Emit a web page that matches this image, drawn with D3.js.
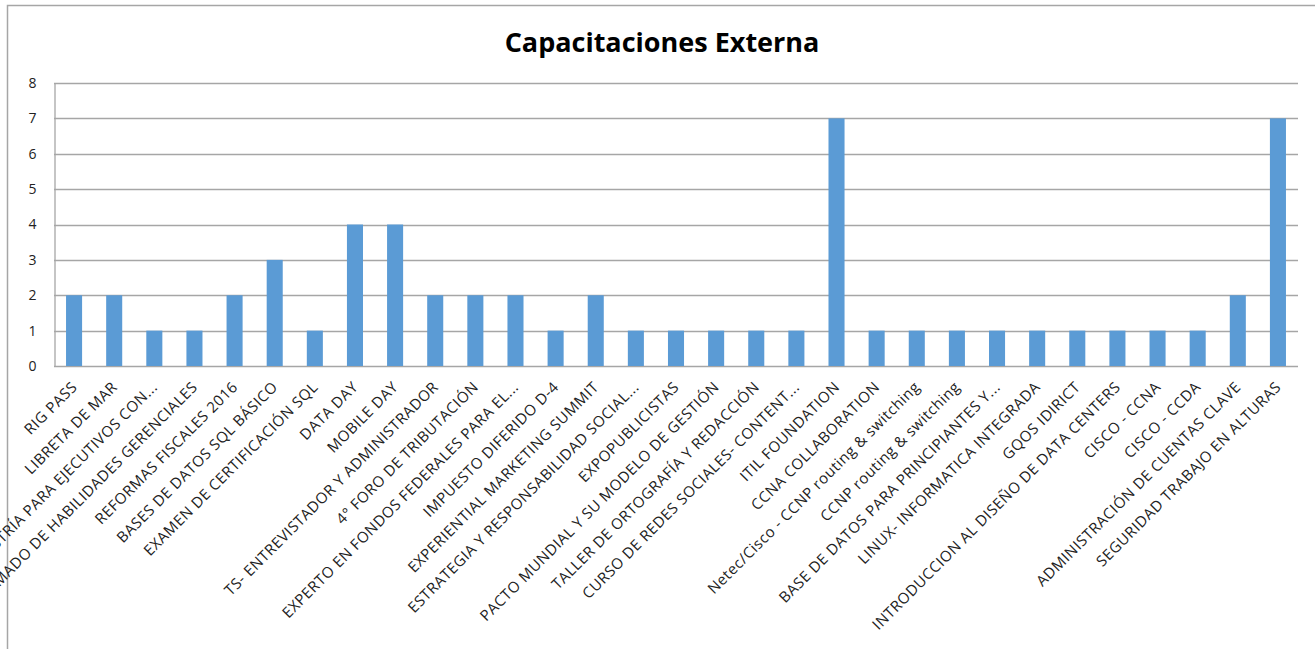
<!DOCTYPE html>
<html>
<head>
<meta charset="utf-8">
<script src="https://cdn.jsdelivr.net/npm/d3@7"></script>
<style>
  body { margin: 0; background: #fff; }
  svg { display: block; font-family: "Open Sans", sans-serif; }
</style>
</head>
<body>
<svg id="chart" width="1315" height="649"></svg>
<script>
const cursos = [
  'RIG PASS', 'LIBRETA DE MAR', 'MAESTRÍA PARA EJECUTIVOS CON...', 'DIPLOMADO DE HABILIDADES GERENCIALES',
  'REFORMAS FISCALES 2016', 'BASES DE DATOS SQL BÁSICO', 'EXAMEN DE CERTIFICACIÓN SQL', 'DATA DAY',
  'MOBILE DAY', 'TS- ENTREVISTADOR Y ADMINISTRADOR', '4° FORO DE TRIBUTACIÓN', 'EXPERTO EN FONDOS FEDERALES PARA EL...',
  'IMPUESTO DIFERIDO D-4', 'EXPERIENTIAL MARKETING SUMMIT', 'ESTRATEGIA Y RESPONSABILIDAD SOCIAL...', 'EXPOPUBLICISTAS',
  'PACTO MUNDIAL Y SU MODELO DE GESTIÓN', 'TALLER DE ORTOGRAFÍA Y REDACCIÓN', 'CURSO DE REDES SOCIALES- CONTENT...', 'ITIL FOUNDATION',
  'CCNA COLLABORATION', 'Netec/Cisco - CCNP routing & switching', 'CCNP routing & switching', 'BASE DE DATOS PARA PRINCIPIANTES Y...',
  'LINUX- INFORMATICA INTEGRADA', 'GQOS IDIRICT', 'INTRODUCCION AL DISEÑO DE DATA CENTERS', 'CISCO - CCNA',
  'CISCO - CCDA', 'ADMINISTRACIÓN DE CUENTAS CLAVE', 'SEGURIDAD TRABAJO EN ALTURAS'
];
const asistentes = [2, 2, 1, 1, 2, 3, 1, 4, 4, 2, 2, 2, 1, 2, 1, 1, 1, 1, 1, 7, 1, 1, 1, 1, 1, 1, 1, 1, 1, 2, 7];
const yTicks = [0, 1, 2, 3, 4, 5, 6, 7, 8];
const titulo = 'Capacitaciones Externa';

const margin = {left: 54, right: 17, top: 83, bottom: 283};
const W = 1315, H = 649;
const svg = d3.select('#chart');

// marco exterior
svg.append('rect')
  .attr('x', 7.5).attr('y', 5.5)
  .attr('width', W + 20).attr('height', H + 20)
  .attr('fill', 'none').attr('stroke', '#a6a6a6').attr('stroke-width', 1.5);

svg.append('text')
  .attr('x', 662).attr('y', 52)
  .attr('text-anchor', 'middle')
  .attr('font-size', 27).attr('font-weight', 'bold').attr('fill', '#000')
  .text(titulo);

const x = d3.scaleBand()
  .domain(cursos)
  .range([margin.left, W - margin.right]);
const y = d3.scaleLinear()
  .domain([0, 8])
  .range([H - margin.bottom, margin.top]);

const g = svg.append('g');

// grid
g.selectAll('.grid').data(yTicks).enter().append('line')
  .attr('class', 'grid')
  .attr('x1', margin.left).attr('x2', W - margin.right)
  .attr('y1', d => Math.round(y(d)) + 0.5).attr('y2', d => Math.round(y(d)) + 0.5)
  .attr('stroke', '#a6a6a6').attr('stroke-width', 1.3);

const yAxis = d3.axisLeft(y).tickValues(yTicks).tickSize(0).tickPadding(18);
g.append('g')
  .attr('transform', `translate(${margin.left + 0.5},0)`)
  .call(yAxis)
  .call(s => s.select('.domain').attr('stroke', '#a6a6a6').attr('stroke-width', 1.3))
  .selectAll('text')
  .attr('font-size', 14).attr('fill', '#222').attr('font-family', '"Open Sans", sans-serif');

const barW = x.bandwidth() / 2.5;
g.selectAll('.bar').data(asistentes).enter().append('rect')
  .attr('class', 'bar')
  .attr('x', (d, i) => x(cursos[i]) + (x.bandwidth() - barW) / 2)
  .attr('y', d => y(d))
  .attr('width', barW)
  .attr('height', d => y(0) - y(d))
  .attr('fill', '#5b9bd5');

// etiquetas inclinadas
g.selectAll('.lbl').data(cursos).enter().append('text')
  .attr('class', 'lbl')
  .attr('transform', d => `translate(${x(d) + x.bandwidth() / 2 + 4},${y(0) + 22}) rotate(-45)`)
  .attr('text-anchor', 'end')
  .attr('font-size', 15).attr('letter-spacing', 0.5).attr('fill', '#222')
  .text(d => d);
</script>
</body>
</html>
